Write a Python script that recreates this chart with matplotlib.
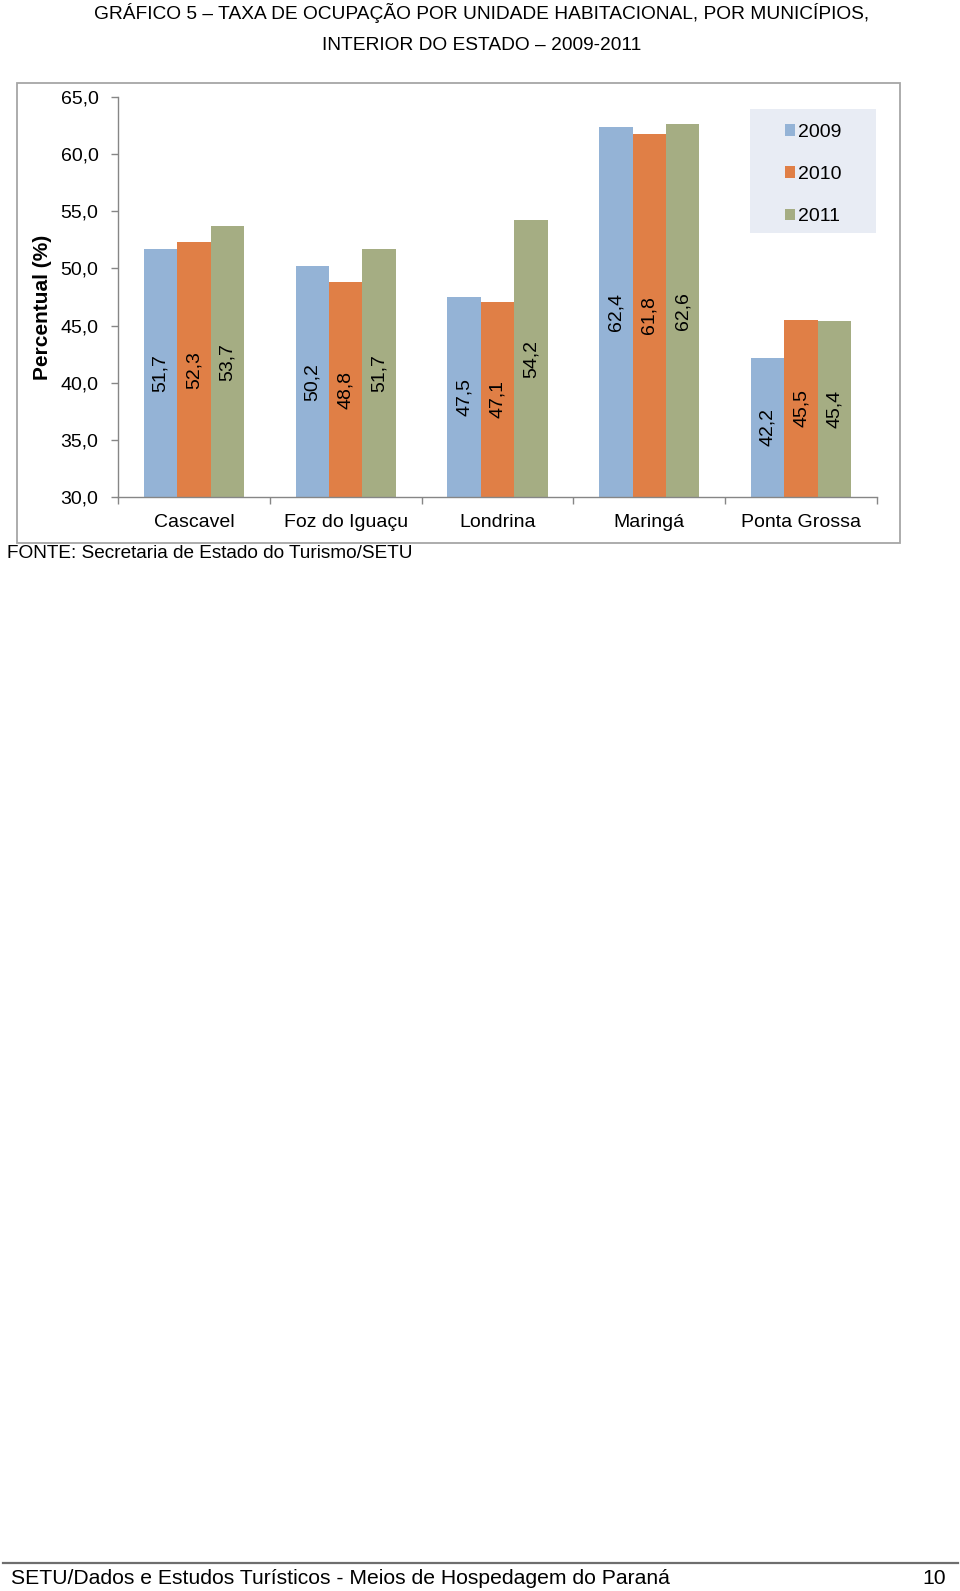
import matplotlib
matplotlib.use('Agg')
import matplotlib.pyplot as plt
import numpy as np
from matplotlib.patches import Rectangle
from matplotlib.lines import Line2D

plt.rcParams['font.family'] = ['Liberation Sans', 'DejaVu Sans']

# data
cities = ['Cascavel', 'Foz do Iguaçu', 'Londrina', 'Maringá', 'Ponta Grossa']
years = ['2009', '2010', '2011']
rate_2009 = [51.7, 50.2, 47.5, 62.4, 42.2]
rate_2010 = [52.3, 48.8, 47.1, 61.8, 45.5]
rate_2011 = [53.7, 51.7, 54.2, 62.6, 45.4]
y_ticks = [30, 35, 40, 45, 50, 55, 60, 65]

colors = ['#94B3D6', '#E07F46', '#A5AD83']
W, H = 960, 1591


def fx(px):
    return px / W


def fy(py):
    return 1 - py / H


def br(v):
    return f'{v:.1f}'.replace('.', ',')


fig = plt.figure(figsize=(W / 100, H / 100), dpi=100)

# title
fig.text(0.502, fy(13), 'GRÁFICO 5 – TAXA DE OCUPAÇÃO POR UNIDADE HABITACIONAL, POR MUNICÍPIOS,',
         ha='center', va='center', fontsize=13.8)
fig.text(0.502, fy(45), 'INTERIOR DO ESTADO – 2009-2011',
         ha='center', va='center', fontsize=13.8)

# chart frame
fig.patches.append(Rectangle((fx(17), fy(543)), fx(883), 460 / H, transform=fig.transFigure,
                             fill=False, edgecolor='#A6A6A6', lw=1.3))

ax = fig.add_axes([fx(118), fy(497), fx(877 - 118), 400 / H])
ax.patch.set_alpha(0)

x = np.arange(len(cities))
width = 0.22
for i, (vals, year, color) in enumerate(zip([rate_2009, rate_2010, rate_2011], years, colors)):
    pos = x + (i - 1) * width
    ax.bar(pos, vals, width, color=color, label=year, zorder=2)
    for xp, v in zip(pos, vals):
        ax.text(xp, (30 + v) / 2, br(v), rotation=90, ha='center', va='center',
                fontsize=14, zorder=3)

ax.set_xlim(-0.5, len(cities) - 0.5)
ax.set_ylim(30, 65)

axis_grey = '#868686'
for s in ['top', 'right']:
    ax.spines[s].set_visible(False)
for s in ['left', 'bottom']:
    ax.spines[s].set_color(axis_grey)
    ax.spines[s].set_linewidth(1.0)

ax.set_yticks(y_ticks)
ax.set_yticklabels([br(t) for t in y_ticks])
ax.tick_params(axis='y', length=5, width=1, color=axis_grey, pad=9, labelsize=14)

ax.set_xticks(np.arange(-0.5, len(cities), 1))
ax.set_xticklabels([])
ax.tick_params(axis='x', which='major', length=5, width=1, color=axis_grey)
ax.set_xticks(x, minor=True)
ax.set_xticklabels(cities, minor=True)
ax.tick_params(axis='x', which='minor', length=0, pad=12, labelsize=14)

# legend with its own shaded background
ax.add_patch(Rectangle((fx(750), fy(233)), fx(126), 124 / H, transform=fig.transFigure,
                       facecolor='#E8ECF4', edgecolor='none', clip_on=False, zorder=1))
ax.legend(loc='upper left', bbox_to_anchor=(fx(775), fy(114)), bbox_transform=fig.transFigure,
          frameon=False, borderpad=0, handlelength=0.55, handleheight=0.55,
          handletextpad=0.15, labelspacing=1.3, fontsize=14)

fig.text(fx(43), fy(307), 'Percentual (%)', rotation=90, ha='center', va='center',
         fontsize=15, fontweight='bold')

fig.text(fx(7), fy(553), 'FONTE: Secretaria de Estado do Turismo/SETU', ha='left', va='center',
         fontsize=13.7)

# page footer
fig.add_artist(Line2D([fx(3), fx(958)], [fy(1563), fy(1563)], transform=fig.transFigure,
                      color='#6E6E6E', lw=1.6))
fig.text(fx(11), fy(1578), 'SETU/Dados e Estudos Turísticos - Meios de Hospedagem do Paraná',
         ha='left', va='center', fontsize=15.2)
fig.text(fx(946), fy(1578), '10', ha='right', va='center', fontsize=15.2)

fig.savefig('out.png', dpi=100)
